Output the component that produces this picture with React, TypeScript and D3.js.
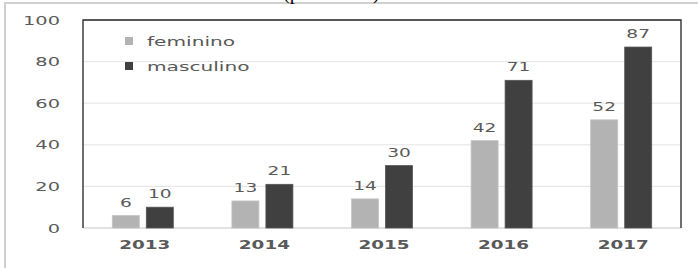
import { useEffect, useRef } from 'react';
import * as d3 from 'd3';

const years = ['2013', '2014', '2015', '2016', '2017'];
const feminino = [6, 13, 14, 42, 52];
const masculino = [10, 21, 30, 71, 87];
const seriesNames = ['feminino', 'masculino'];
const seriesColors = ['#b3b3b3', '#404040'];
const yTicks = [0, 20, 40, 60, 80, 100];

const W = 698;
const H = 268;
const SX = 1.55; // horizontal stretch of the source image text

export default function App() {
  const svgRef = useRef<SVGSVGElement>(null);

  useEffect(() => {
    if (!svgRef.current) return;
    const svg = d3.select(svgRef.current);
    svg.selectAll('*').remove();

    const margin = { top: 20, right: 17, bottom: 40, left: 83 };
    const font = '"DejaVu Sans", Verdana, sans-serif';
    const textColor = '#595959';

    const x0 = d3.scaleBand<string>()
      .domain(years)
      .range([margin.left, W - margin.right])
      .padding(0);
    const groupW = 61;
    const x1 = d3.scaleBand<string>()
      .domain(seriesNames)
      .range([(x0.bandwidth() - groupW) / 2, (x0.bandwidth() + groupW) / 2])
      .paddingInner(0.206);
    const y = d3.scaleLinear().domain([0, 100]).range([228, margin.top]);

    // outer frame (light gray)
    svg.append('path')
      .attr('d', `M5,${H} L5,3 L${W},3`)
      .attr('fill', 'none')
      .attr('stroke', '#d0d0d0')
      .attr('stroke-width', 2);

    // title, cut off at the top edge like in the source
    svg.append('text')
      .attr('x', 283)
      .attr('y', -1)
      .attr('font-family', '"Liberation Serif", "Times New Roman", serif')
      .attr('font-size', 20)
      .attr('fill', '#000')
      .text('(percentual)');

    // gridlines
    svg.append('g')
      .selectAll('line')
      .data(yTicks.filter(t => t < 100))
      .join('line')
      .attr('x1', margin.left)
      .attr('x2', W - margin.right)
      .attr('y1', d => y(d))
      .attr('y2', d => y(d))
      .attr('stroke', d => (d === 0 ? '#d9d9d9' : '#e4e4e4'))
      .attr('stroke-width', d => (d === 0 ? 1.5 : 1));

    // plot frame: top, left, right
    svg.append('path')
      .attr('d', `M${margin.left},${y(0)} L${margin.left},${y(100)} L${W - margin.right},${y(100)} L${W - margin.right},${y(0)}`)
      .attr('fill', 'none')
      .attr('stroke', '#222')
      .attr('stroke-width', 1.3);

    // y tick labels
    svg.append('g')
      .selectAll('text')
      .data(yTicks)
      .join('text')
      .attr('transform', d => `translate(60,${y(d) + 4.5}) scale(${SX},1)`)
      .attr('text-anchor', 'end')
      .attr('font-family', font)
      .attr('font-size', 12.5)
      .attr('fill', textColor)
      .text(d => d);

    // bars
    const rows = years.map((yr, i) => ({ yr, vals: [feminino[i], masculino[i]] }));
    const groups = svg.append('g')
      .selectAll('g')
      .data(rows)
      .join('g')
      .attr('transform', d => `translate(${x0(d.yr)},0)`);

    groups.selectAll('rect')
      .data(d => d.vals.map((v, k) => ({ v, k })))
      .join('rect')
      .attr('x', d => x1(seriesNames[d.k]) || 0)
      .attr('y', d => y(d.v))
      .attr('width', x1.bandwidth())
      .attr('height', d => y(0) - y(d.v))
      .attr('fill', d => seriesColors[d.k])
      .attr('stroke', d => (d.k === 0 ? '#c4c4c4' : '#555'))
      .attr('stroke-width', 0.8);

    groups.selectAll('text')
      .data(d => d.vals.map((v, k) => ({ v, k })))
      .join('text')
      .attr('transform', d => `translate(${(x1(seriesNames[d.k]) || 0) + x1.bandwidth() / 2},${y(d.v) - 9}) scale(${SX},1)`)
      .attr('text-anchor', 'middle')
      .attr('font-family', font)
      .attr('font-size', 12)
      .attr('fill', textColor)
      .text(d => d.v);

    // x labels
    svg.append('g')
      .selectAll('text')
      .data(years)
      .join('text')
      .attr('transform', d => `translate(${(x0(d) || 0) + x0.bandwidth() / 2 + 2},249) scale(1.47,1)`)
      .attr('text-anchor', 'middle')
      .attr('font-family', font)
      .attr('font-weight', 'bold')
      .attr('font-size', 12.5)
      .attr('fill', textColor)
      .text(d => d);

    // legend
    const legend = svg.append('g');
    seriesNames.forEach((name, i) => {
      const ly = 41 + i * 25;
      legend.append('rect')
        .attr('x', 125)
        .attr('y', ly - 4)
        .attr('width', 8)
        .attr('height', 8)
        .attr('fill', seriesColors[i]);
      legend.append('text')
        .attr('transform', `translate(147,${ly + 4.5}) scale(${SX},1)`)
        .attr('font-family', font)
        .attr('font-size', 13)
        .attr('fill', textColor)
        .text(name);
    });
  }, []);

  return (
    <svg
      ref={svgRef}
      width={W}
      height={H}
      style={{ position: 'absolute', left: 0, top: 0, background: '#fff' }}
    />
  );
}
